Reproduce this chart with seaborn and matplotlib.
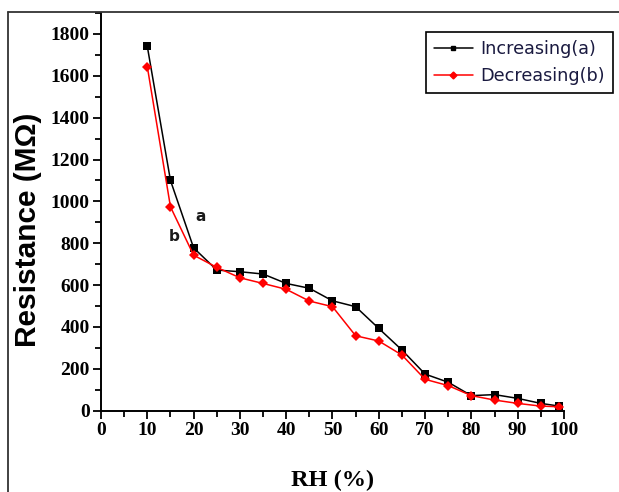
import matplotlib
matplotlib.use("Agg")
import matplotlib.pyplot as plt
from matplotlib.ticker import MultipleLocator
from matplotlib.lines import Line2D
import seaborn as sns
import pandas as pd

# Relative humidity steps (%)
rh_inc = [10, 15, 20, 25, 30, 35, 40, 45, 50, 55, 60, 65, 70, 75, 80, 85, 90, 95, 99]
rh_dec = [10, 15, 20, 25, 30, 35, 40, 45, 50, 55, 60, 65, 70, 75, 80, 85, 90, 95, 99]

# Resistance (MOhm) while humidity rises (a) and falls (b)
res_inc = [1740, 1100, 778, 672, 664, 653, 608, 585, 525, 497, 393, 290, 175, 136, 72, 77, 59, 35, 22]
res_dec = [1643, 974, 743, 685, 635, 608, 580, 524, 497, 358, 333, 266, 150, 120, 72, 51, 35, 22, 19]

series_names = ["Increasing(a)", "Decreasing(b)"]

df = pd.concat([
    pd.DataFrame({"RH": rh_inc, "R": res_inc, "cycle": series_names[0]}),
    pd.DataFrame({"RH": rh_dec, "R": res_dec, "cycle": series_names[1]}),
])

sns.set_style("ticks")
plt.rcParams["font.family"] = ["Liberation Serif", "DejaVu Serif"]
plt.rcParams["text.color"] = "black"
plt.rcParams["axes.labelcolor"] = "black"

fig = plt.figure(figsize=(6.19, 4.92), dpi=100)
ax = fig.add_axes([0.1632, 0.1652, 0.9111 - 0.1632, 0.9736 - 0.1652])

palette = {series_names[0]: "black", series_names[1]: "red"}
markers = {series_names[0]: "s", series_names[1]: "D"}
sns.lineplot(data=df, x="RH", y="R", hue="cycle", style="cycle",
             palette=palette, markers=markers, dashes=False,
             markersize=5.5, markeredgewidth=0, linewidth=1.1,
             legend=False, ax=ax, sort=False)

ax.set_xlim(0, 100)
ax.set_ylim(0, 1900)
ax.xaxis.set_major_locator(MultipleLocator(10))
ax.xaxis.set_minor_locator(MultipleLocator(5))
ax.yaxis.set_minor_locator(MultipleLocator(100))
ax.set_yticks(range(0, 1801, 200))

for side in ("top", "right"):
    ax.spines[side].set_visible(False)
for side in ("left", "bottom"):
    ax.spines[side].set_linewidth(1.4)
    ax.spines[side].set_color("black")

ax.tick_params(which="major", direction="out", length=6, width=1.3,
               colors="black", labelsize=14, pad=2)
ax.tick_params(which="minor", direction="out", length=4, width=1.3, colors="black")
for lab in ax.get_xticklabels() + ax.get_yticklabels():
    lab.set_fontweight("bold")

ax.set_xlabel("RH (%)", fontsize=17.5, fontweight="bold", labelpad=22)
ax.set_ylabel("Resistance (M\u03a9)", fontsize=21.5, fontweight="bold",
              family=["Liberation Sans", "DejaVu Sans"])
ax.yaxis.set_label_coords(-0.128, 0.455)

# Curve tags
ax.text(20.3, 930, "a", fontsize=11, fontweight="bold", color="#1a1a1a",
        family=["DejaVu Sans"], ha="left", va="center")
ax.text(14.6, 834, "b", fontsize=11, fontweight="bold", color="#1a1a1a",
        family=["DejaVu Sans"], ha="left", va="center")

handles = [
    Line2D([], [], color="black", marker="s", markersize=3.5, linewidth=1.1),
    Line2D([], [], color="red", marker="D", markersize=3.5, linewidth=1.1),
]
leg = fig.legend(handles, series_names, loc="upper left",
                 bbox_to_anchor=(426 / 619, 1 - 32 / 492),
                 prop={"family": "DejaVu Sans", "size": 12.7},
                 frameon=True, fancybox=False, framealpha=1,
                 edgecolor="black", handlelength=2.2, borderpad=0.45,
                 borderaxespad=0, labelspacing=0.5, handletextpad=0.45)
leg.get_frame().set_linewidth(1.2)
for t in leg.get_texts():
    t.set_color("#1a1a40")

# Outer frame of the figure panel
fig.add_artist(Line2D([8 / 619, 1.0], [1 - 12 / 492, 1 - 12 / 492],
                      transform=fig.transFigure, color="#333333", linewidth=1.3))
fig.add_artist(Line2D([8 / 619, 8 / 619], [0.0, 1 - 12 / 492],
                      transform=fig.transFigure, color="#333333", linewidth=1.3))

fig.savefig("out.png", dpi=100)
